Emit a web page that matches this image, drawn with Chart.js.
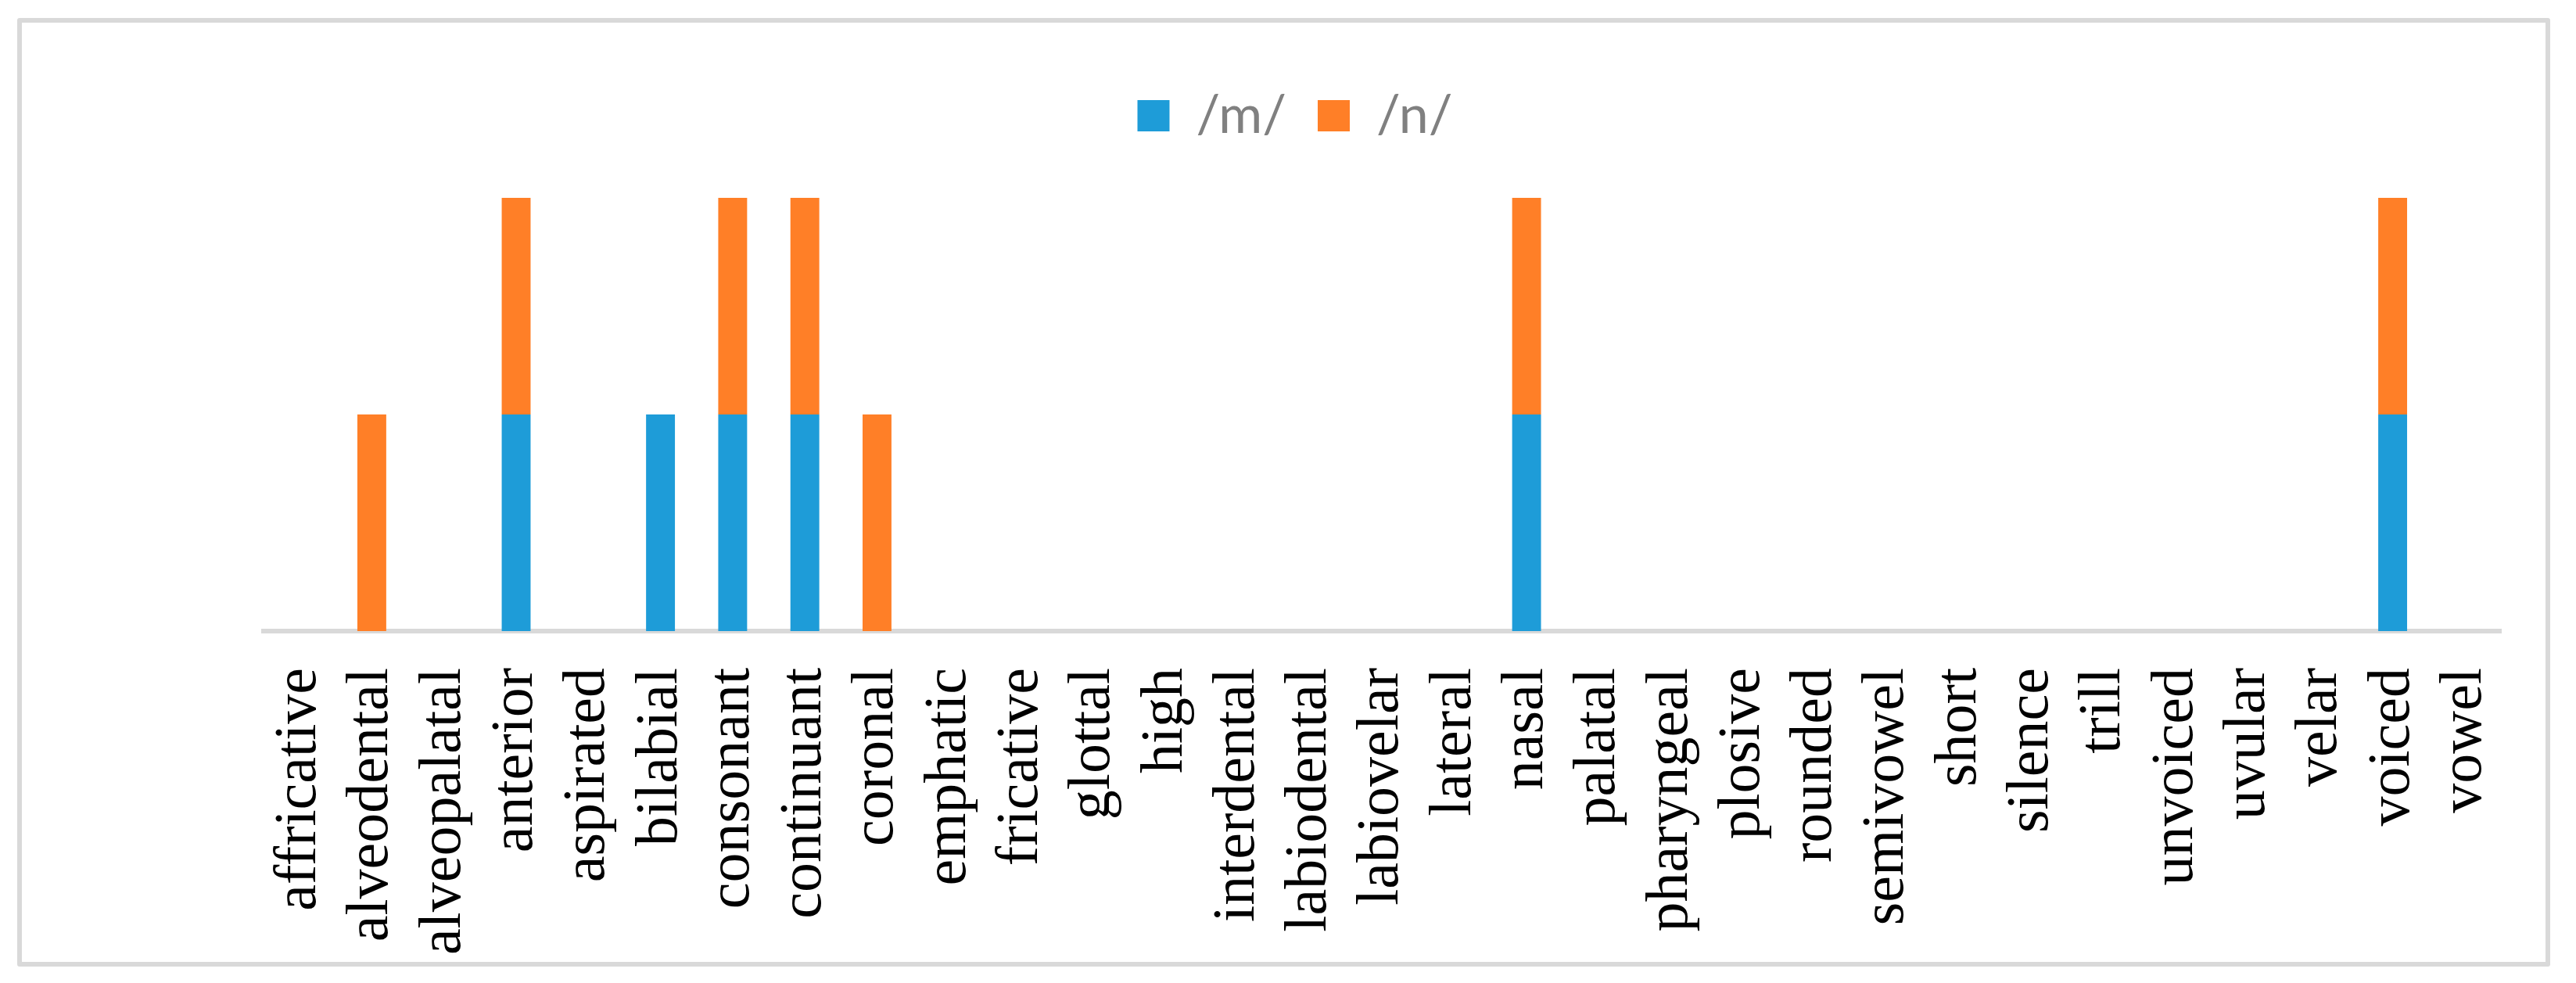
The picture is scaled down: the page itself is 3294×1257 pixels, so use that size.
<!DOCTYPE html>
<html>
<head>
<meta charset="utf-8">
<script src="https://cdn.jsdelivr.net/npm/chart.js@4/dist/chart.umd.min.js"></script>
<style>
  html, body { margin: 0; padding: 0; background: #ffffff; }
  #wrap { position: relative; width: 3294px; height: 1257px; }
  #frame {
    position: absolute; left: 22px; top: 23px; width: 3239px; height: 1213px;
    box-sizing: border-box; border: 6px solid #d9d9d9; border-radius: 3px;
    pointer-events: none;
  }
  canvas { position: absolute; left: 0; top: 0; }
</style>
</head>
<body>
<div id="wrap">
  <canvas id="chart" width="3294" height="1257"></canvas>
  <div id="frame"></div>
</div>
<script>
// ---------- data ----------
const categories = [
  'affricative', 'alveodental', 'alveopalatal', 'anterior', 'aspirated',
  'bilabial', 'consonant', 'continuant', 'coronal', 'emphatic', 'fricative',
  'glottal', 'high', 'interdental', 'labiodental', 'labiovelar', 'lateral',
  'nasal', 'palatal', 'pharyngeal', 'plosive', 'rounded', 'semivowel',
  'short', 'silence', 'trill', 'unvoiced', 'uvular', 'velar', 'voiced', 'vowel'
];
const seriesNames = ['/m/', '/n/'];
const mValues = [0, 0, 0, 1, 0, 1, 1, 1, 0, 0, 0, 0, 0, 0, 0, 0, 0, 1, 0, 0, 0, 0, 0, 0, 0, 0, 0, 0, 0, 1, 0];
const nValues = [0, 1, 0, 1, 0, 0, 1, 1, 1, 0, 0, 0, 0, 0, 0, 0, 0, 1, 0, 0, 0, 0, 0, 0, 0, 0, 0, 0, 0, 1, 0];

// ---------- style ----------
const BLUE = '#1e9cd8';
const ORANGE = '#ff7f27';
const AXIS_GRAY = '#d9d9d9';
const LEGEND_TEXT = '#808080';

// y축은 숨김. legend 아래 여백을 맞추기 위해 max를 2보다 조금 크게 둔다.
const Y_MAX = 2.22;

new Chart(document.getElementById('chart'), {
  type: 'bar',
  data: {
    labels: categories,
    datasets: [
      { label: seriesNames[0], data: mValues, backgroundColor: BLUE, borderWidth: 0 },
      { label: seriesNames[1], data: nValues, backgroundColor: ORANGE, borderWidth: 0 },
    ],
  },
  options: {
    responsive: false,
    animation: false,
    devicePixelRatio: 1,
    layout: { padding: { left: 114, right: 96, top: 74, bottom: 0 } },
    datasets: { bar: { barPercentage: 0.4, categoryPercentage: 1.0 } },
    plugins: {
      legend: {
        position: 'top',
        align: 'center',
        labels: {
          boxWidth: 41,
          boxHeight: 40,
          padding: 40,
          color: LEGEND_TEXT,
          font: { family: 'Lato', size: 68 },
        },
      },
      tooltip: { enabled: false },
    },
    scales: {
      x: {
        stacked: true,
        grid: { display: false, drawTicks: false },
        border: { display: true, color: AXIS_GRAY, width: 6 },
        ticks: {
          autoSkip: false,
          minRotation: 90,
          maxRotation: 90,
          padding: 47,
          color: '#000000',
          font: { family: 'Liberation Serif', size: 76 },
        },
        afterFit: (s) => { s.height = 450; },
      },
      y: {
        stacked: true,
        min: 0,
        max: Y_MAX,
        grid: { display: false },
        border: { display: false },
        ticks: { display: false },
        afterFit: (s) => { s.width = 223; },
      },
    },
  },
});
</script>
</body>
</html>
